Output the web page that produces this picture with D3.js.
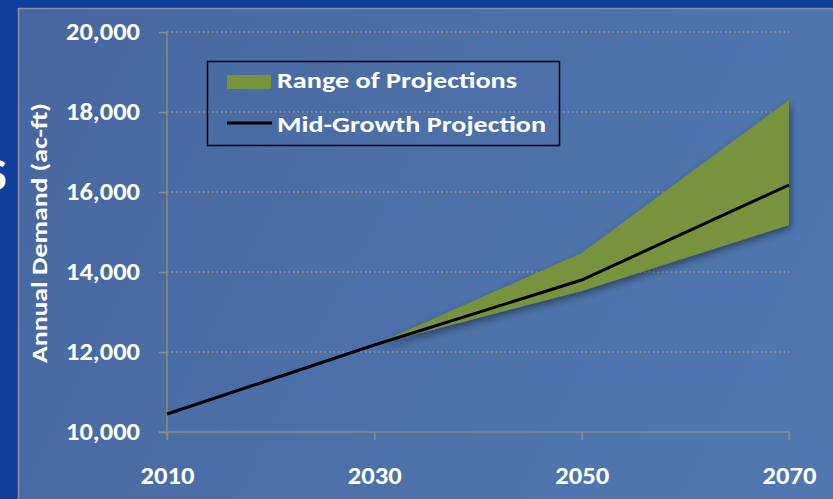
<!DOCTYPE html>
<html>
<head>
<meta charset="utf-8">
<script src="https://d3js.org/d3.v7.min.js"></script>
<style>
body { margin: 0; background: #0d3f9c; }
svg { display: block; font-family: Calibri, Carlito, "Liberation Sans", sans-serif; font-weight: bold; }
</style>
</head>
<body>
<div id="chart"></div>
<script>
// data
var years = [2010, 2030, 2050, 2070];
var midGrowth = [10450, 12175, 13800, 16175];
var rangeYears = [2030, 2050, 2070];
var rangeLow = [12175, 13525, 15175];
var rangeHigh = [12175, 14475, 18300];
var yTicks = [10000, 12000, 14000, 16000, 18000, 20000];

var width = 833, height = 499;
var font = "Calibri, Carlito, 'Liberation Sans', sans-serif";

var svg = d3.select("#chart").append("svg")
	.attr("width", width)
	.attr("height", height);

var defs = svg.append("defs");
var grad = defs.append("linearGradient").attr("id", "panel")
	.attr("x1", "0").attr("y1", "0").attr("x2", "1").attr("y2", "0.3");
grad.append("stop").attr("offset", "0").attr("stop-color", "#48669f");
grad.append("stop").attr("offset", "1").attr("stop-color", "#4f78b0");

var shadow = defs.append("filter").attr("id", "shadow")
	.attr("x", "-10%").attr("y", "-10%").attr("width", "130%").attr("height", "130%");
shadow.append("feGaussianBlur").attr("in", "SourceAlpha").attr("stdDeviation", 4);
shadow.append("feOffset").attr("dx", 2).attr("dy", 3).attr("result", "b");
shadow.append("feComponentTransfer").append("feFuncA").attr("type", "linear").attr("slope", 0.45);
var merge = shadow.append("feMerge");
merge.append("feMergeNode");
merge.append("feMergeNode").attr("in", "SourceGraphic");

// background: dark strip + chart panel
svg.append("rect").attr("width", width).attr("height", height).attr("fill", "#0e3f9d");
svg.append("text").attr("x", -15).attr("y", 190).attr("fill", "white")
	.attr("font-size", 46).text("S");
svg.append("rect")
	.attr("x", 18.5).attr("y", 8.5).attr("width", width).attr("height", height)
	.attr("fill", "url(#panel)")
	.attr("stroke", "#8a8f9a").attr("stroke-width", 1.5);

var x = d3.scalePoint().domain(years).range([167, 789]);
var y = d3.scaleLinear().domain([10000, 20000]).range([432, 32]);

// gridlines
svg.append("g").selectAll("line")
	.data(yTicks.slice(1))
	.join("line")
	.attr("x1", 167).attr("x2", 789)
	.attr("y1", d => y(d)).attr("y2", d => y(d))
	.attr("stroke", "#a0998a").attr("stroke-width", 1.5)
	.attr("stroke-dasharray", "1.5,3");

// range area
var area = d3.area()
	.x(d => x(d.year))
	.y0(d => y(d.low))
	.y1(d => y(d.high));
var rangeData = rangeYears.map((yr, i) => ({ year: yr, low: rangeLow[i], high: rangeHigh[i] }));
svg.append("path")
	.datum(rangeData)
	.attr("d", area)
	.attr("fill", "#77933c")
	.attr("filter", "url(#shadow)");

// axes
var yAxis = svg.append("g")
	.attr("transform", "translate(167,0)")
	.call(d3.axisLeft(y).tickValues(yTicks).tickSize(8).tickPadding(19).tickFormat(d3.format(",")));
var xAxis = svg.append("g")
	.attr("transform", "translate(0,432)")
	.call(d3.axisBottom(x).tickSize(8).tickPadding(27).tickFormat(d3.format("d")));
[yAxis, xAxis].forEach(function(a) {
	a.select(".domain").attr("stroke", "#8c8c82").attr("stroke-width", 1.5);
	a.selectAll(".tick line").attr("stroke", "#8c8c82").attr("stroke-width", 1.5);
	a.selectAll(".tick text").attr("fill", "white").attr("font-size", 24)
		.attr("font-family", font).attr("font-weight", "bold")
		.attr("lengthAdjust", "spacingAndGlyphs");
});
yAxis.selectAll(".tick text").attr("textLength", 74);
xAxis.selectAll(".tick text").attr("textLength", 54);
xAxis.select(".domain").attr("d", "M159,0H789V8");
yAxis.select(".domain").attr("d", "M0,32V440");

// mid-growth line
svg.append("path")
	.datum(years.map((yr, i) => ({ year: yr, v: midGrowth[i] })))
	.attr("d", d3.line().x(d => x(d.year)).y(d => y(d.v)))
	.attr("fill", "none")
	.attr("stroke", "black")
	.attr("stroke-width", 3);

// y axis title
svg.append("text")
	.attr("transform", "translate(47,233) rotate(-90)")
	.attr("text-anchor", "middle")
	.attr("fill", "white")
	.attr("font-size", 23)
	.attr("textLength", 260)
	.attr("lengthAdjust", "spacingAndGlyphs")
	.text("Annual Demand (ac-ft)");

// legend
var legend = svg.append("g");
legend.append("rect")
	.attr("x", 207.5).attr("y", 61.5).attr("width", 352).attr("height", 84)
	.attr("fill", "none").attr("stroke", "black").attr("stroke-width", 1.5);
legend.append("rect")
	.attr("x", 227).attr("y", 75).attr("width", 44).attr("height", 14)
	.attr("fill", "#77933c");
legend.append("line")
	.attr("x1", 227).attr("x2", 272).attr("y1", 123).attr("y2", 123)
	.attr("stroke", "black").attr("stroke-width", 3);
legend.append("text").attr("x", 277).attr("y", 88).attr("fill", "white")
	.attr("font-size", 22).attr("textLength", 240).attr("lengthAdjust", "spacingAndGlyphs")
	.text("Range of Projections");
legend.append("text").attr("x", 277).attr("y", 132).attr("fill", "white")
	.attr("font-size", 22).attr("textLength", 269).attr("lengthAdjust", "spacingAndGlyphs")
	.text("Mid-Growth Projection");
</script>
</body>
</html>
